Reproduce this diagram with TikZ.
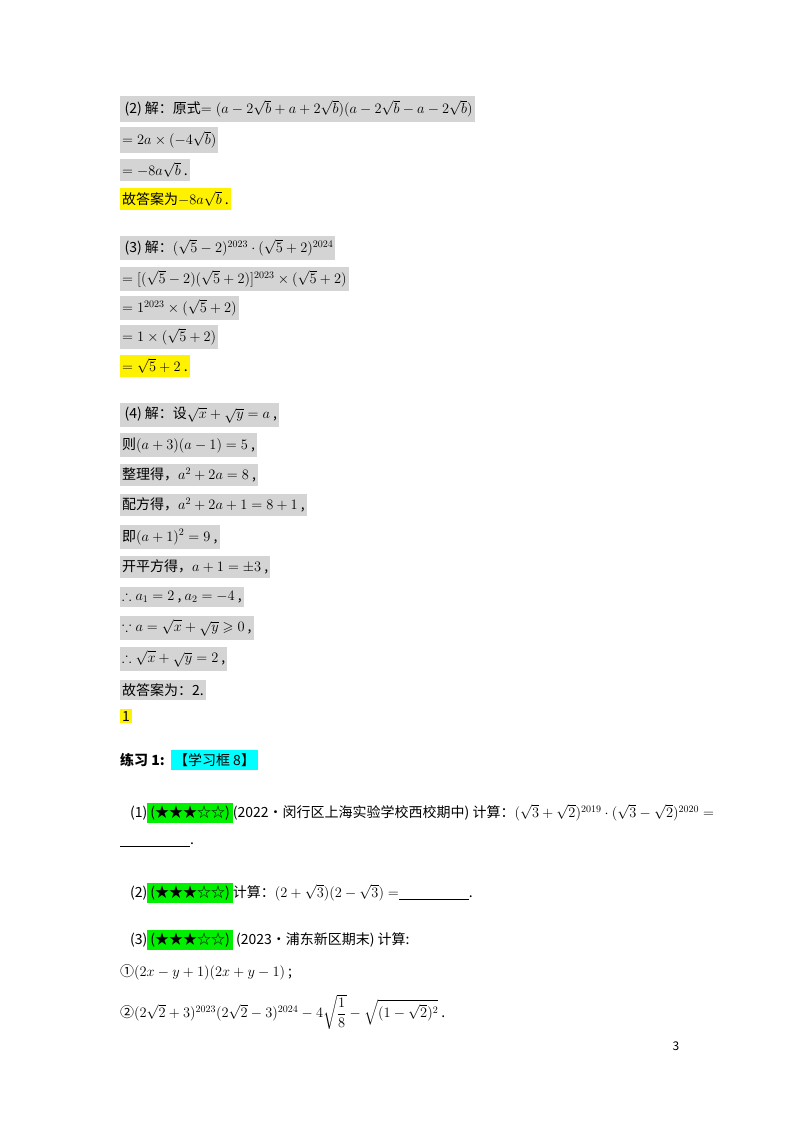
\documentclass[tikz,border=0pt]{standalone}
\usepackage{amsmath,amssymb}
\usepackage{fontspec}
\setmainfont{Noto Sans CJK SC}
\definecolor{cyanh}{RGB}{0,255,255}
\definecolor{greenh}{RGB}{0,240,0}
\begin{document}
\begin{tikzpicture}[x=1pt,y=-1pt,
  ln/.style={anchor=west,inner xsep=2pt,inner ysep=4pt,font=\fontsize{14}{16}\selectfont},
  gl/.style={ln,fill=black!17},
  yl/.style={ln,fill=yellow},
  gr/.style={fill=greenh,inner sep=3pt},
  cy/.style={fill=cyanh,inner sep=3pt}]
\useasboundingbox[fill=white] (0,0) rectangle (800,1132);
\node[gl] (l1) at (120,109) {\,(2) 解：原式$=(a-2\sqrt{b}+a+2\sqrt{b})(a-2\sqrt{b}-a-2\sqrt{b})$};
\node[gl] (l2) at (120,140) {$=2a\times(-4\sqrt{b})$};
\node[gl] (l3) at (120,170) {$=-8a\sqrt{b}$\ .};
\node[yl] (l4) at (120,199) {故答案为$-8a\sqrt{b}$\ .};
\node[gl] (l5) at (120,248) {\,(3) 解：$(\sqrt5-2)^{2023}\cdot(\sqrt5+2)^{2024}$};
\node[gl] (l6) at (120,279) {$=[(\sqrt5-2)(\sqrt5+2)]^{2023}\times(\sqrt5+2)$};
\node[gl] (l7) at (120,308) {$=1^{2023}\times(\sqrt5+2)$};
\node[gl] (l8) at (120,337) {$=1\times(\sqrt5+2)$};
\node[yl] (l9) at (120,366) {$=\sqrt5+2$\ .};
\node[gl] (m1) at (120,415) {\,(4) 解：设$\sqrt{x}+\sqrt{y}=a$\ ,};
\node[gl] (m2) at (120,445) {则$(a+3)(a-1)=5$\ ,};
\node[gl] (m3) at (120,475) {整理得，$a^2+2a=8$\ ,};
\node[gl] (m4) at (120,505) {配方得，$a^2+2a+1=8+1$\ ,};
\node[gl] (m5) at (120,537) {即$(a+1)^2=9$\ ,};
\node[gl] (m6) at (120,567) {开平方得，$a+1=\pm3$\ ,};
\node[gl] (m7) at (120,597) {$\therefore a_1=2$\ ,\ $a_2=-4$\ ,};
\node[gl] (m8) at (120,628) {$\because a=\sqrt{x}+\sqrt{y}\geqslant0$\ ,};
\node[gl] (m9) at (120,659) {$\therefore \sqrt{x}+\sqrt{y}=2$\ ,};
\node[gl] (m10) at (120,690) {故答案为：2.};
\node[yl,inner ysep=2pt] (m11) at (120,716) {1};
\node[ln] (e0) at (118,760) {\textbf{练习 1:}\ \ \tikz[baseline=(c.base)]\node[cy](c){【学习框 8】};};
\node[ln] (e1) at (128,813) {(1)\tikz[baseline=(c.base)]\node[gr](c){(★★★☆☆)};(2022•闵行区上海实验学校西校期中) 计算：$(\sqrt3+\sqrt2)^{2019}\cdot(\sqrt3-\sqrt2)^{2020}=$};
\node[ln] (e1b) at (118,845) {\underline{\hspace{70pt}}.};
\node[ln] (e2) at (128,893) {(2)\tikz[baseline=(c.base)]\node[gr](c){(★★★☆☆)};计算：$(2+\sqrt3)(2-\sqrt3)=$\underline{\hspace{70pt}}.};
\node[ln] (e3) at (128,940) {(3)\tikz[baseline=(c.base)]\node[gr](c){(★★★☆☆)}; (2023•浦东新区期末) 计算:};
\node[ln] (e4) at (118,972) {①$(2x-y+1)(2x+y-1)$\ ;};
\node[ln] (e5) at (118,1012) {②$(2\sqrt2+3)^{2023}(2\sqrt2-3)^{2024}-4\sqrt{\dfrac18}-\sqrt{(1-\sqrt2)^2}$\ .};
\node[font=\fontsize{12}{14}\selectfont] (pg) at (676,1046) {3};
\end{tikzpicture}
\end{document}
